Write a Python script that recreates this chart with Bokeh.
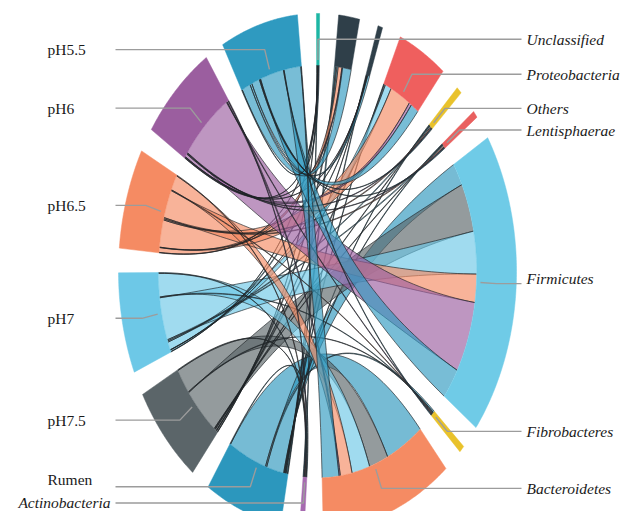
import numpy as np
from bokeh.plotting import figure
from bokeh.models import Range1d
from bokeh.embed import file_html
from bokeh.resources import INLINE
from bokeh.core.properties import value

# ---------------- data (relative abundance, % per sample) ----------------
samples = ["pH5.5", "pH6", "pH6.5", "pH7", "pH7.5", "Rumen"]
phyla = ["Unclassified", "Phylum_a", "Phylum_b", "Proteobacteria", "Others",
         "Lentisphaerae", "Firmicutes", "Fibrobacteres", "Bacteroidetes", "Actinobacteria"]
phyla_labels = ["Unclassified", "", "", "Proteobacteria", "Others",
                "Lentisphaerae", "Firmicutes", "Fibrobacteres", "Bacteroidetes", "Actinobacteria"]

ph55 = [1, 14, 3, 13, 1, 1, 38, 1, 27, 1]
ph6 = [0.5, 1, 0.5, 4, 1, 1, 88, 1, 2, 1]
ph65 = [0.5, 6, 0.5, 34, 1.5, 1.5, 35, 1, 19, 1]
ph7 = [0.5, 2, 0.5, 10, 1.5, 1.5, 53, 1, 29, 1]
ph75 = [0.5, 2, 0.5, 2, 1, 1, 60, 1, 31, 1]
rumen = [1, 2, 1, 1, 1, 1, 28, 2, 62, 1]

sample_colors = ["#2F9AC0", "#9B5E9F", "#F58B63", "#6DC8E7", "#5B6569", "#2C97BD"]
phyla_colors = ["#1DB6A4", "#2F3F49", "#2F3F49", "#EF5F5E", "#E9C22B",
                "#E9605F", "#6FCBE7", "#E9C22B", "#F58B63", "#A66BB0"]

# ---------------- layout ----------------
CX, CY, RX, RY = 317.0, 271.0, 199.0, 258.0
R_OUT, R_IN = 1.0, 0.8
GAP = 5.5
START = -0.3

M = np.array([ph55, ph6, ph65, ph7, ph75, rumen], dtype=float)
col_tot = M.sum(axis=0)
row_tot = M.sum(axis=1)

# clockwise order around the circle: phyla, then samples from Rumen up to pH5.5
seq = [("p", j) for j in range(len(phyla))] + [("s", i) for i in reversed(range(len(samples)))]
sizes = [col_tot[j] if k == "p" else row_tot[j] for k, j in seq]
K = (360.0 - GAP * len(seq)) / sum(sizes)

seg_start = {}
a = START
for (kind, idx), sz in zip(seq, sizes):
    seg_start[(kind, idx)] = (a, a + sz * K)
    a += sz * K + GAP


def pt(theta, r):
    t = np.radians(theta)
    return CX + RX * r * np.sin(t), CY - RY * r * np.cos(t)


def arc(a0, a1, r):
    n = max(2, int(abs(a1 - a0) * 3) + 2)
    th = np.linspace(a0, a1, n)
    x, y = pt(th, r)
    return list(x), list(y)


def bez(p0, p2, n=50):
    t = np.linspace(0, 1, n)
    x = (1 - t) ** 2 * p0[0] + 2 * (1 - t) * t * CX + t ** 2 * p2[0]
    y = (1 - t) ** 2 * p0[1] + 2 * (1 - t) * t * CY + t ** 2 * p2[1]
    return list(x), list(y)


# sub-arcs: in sample sectors phyla go clockwise in phylum order;
# in phylum sectors samples go clockwise in circle order (Rumen ... pH5.5)
s_sub = {}
for i in range(len(samples)):
    a0 = seg_start[("s", i)][0]
    for j in range(len(phyla)):
        w = M[i, j] * K
        s_sub[(i, j)] = (a0, a0 + w)
        a0 += w
p_sub = {}
for j in range(len(phyla)):
    a0 = seg_start[("p", j)][0]
    for i in reversed(range(len(samples))):
        w = M[i, j] * K
        p_sub[(i, j)] = (a0, a0 + w)
        a0 += w

p = figure(width=620, height=511, x_range=Range1d(0, 620), y_range=Range1d(511, 0),
           output_backend="svg", toolbar_location=None, min_border=0,
           x_axis_type=None, y_axis_type=None)
p.grid.visible = False
p.outline_line_color = None

# ---------------- ribbons ----------------
for i in reversed(range(len(samples))):
    order = sorted(range(len(phyla)), key=lambda j: -M[i, j])
    fx, fy, ex, ey = [], [], [], []
    for j in order:
        a1, a2 = s_sub[(i, j)]
        b1, b2 = p_sub[(i, j)]
        ax_, ay_ = arc(a1, a2, R_IN)
        c1x, c1y = bez(pt(a2, R_IN), pt(b1, R_IN))
        bx_, by_ = arc(b1, b2, R_IN)
        c2x, c2y = bez(pt(b2, R_IN), pt(a1, R_IN))
        fx.append(ax_ + c1x + bx_ + c2x)
        fy.append(ay_ + c1y + by_ + c2y)
        ex += [c1x, c2x]
        ey += [c1y, c2y]
    p.patches(fx, fy, fill_color=sample_colors[i], fill_alpha=0.65, line_color=None)
    p.multi_line(ex, ey, line_color="#1e2326", line_alpha=0.65, line_width=1.0)

# ---------------- outer bands ----------------
bx, by, bc = [], [], []
for (kind, idx) in seq:
    s, e = seg_start[(kind, idx)]
    ox, oy = arc(s, e, R_OUT)
    ix, iy = arc(e, s, R_IN)
    bx.append(ox + ix)
    by.append(oy + iy)
    bc.append(phyla_colors[idx] if kind == "p" else sample_colors[idx])
p.patches(bx, by, fill_color=bc, line_color=bc, line_width=0.5)

# ---------------- leader lines & labels ----------------
LEFT_LINE_X, RIGHT_LINE_X = 115, 521
label_dy = {"Rumen": -7, "Firmicutes": -5}

lx, ly = [], []
left_norm, left_ital_right, right_ital = [], [], []
for (kind, idx) in seq:
    name = samples[idx] if kind == "s" else phyla_labels[idx]
    if not name:
        continue
    s, e = seg_start[(kind, idx)]
    mid = (s + e) / 2
    ex_, ey_ = pt(mid, 0.9)
    nx_, ny_ = pt(mid, 0.82)
    left = mid > 180
    x0 = LEFT_LINE_X if left else RIGHT_LINE_X
    lx.append([x0, ex_, nx_])
    ly.append([ey_, ey_, ny_])
    ty = ey_ + label_dy.get(name, 0)
    if kind == "s":
        left_norm.append((47, ty, name))
    elif left:
        left_ital_right.append((110, ty, name))
    else:
        right_ital.append((526, ty, name))
p.multi_line(lx, ly, line_color="#9c9c9c", line_width=1.4)

FONT = value("Liberation Serif, Times New Roman, serif")
FS = "15.5px"
if left_norm:
    p.text(x=[t[0] for t in left_norm], y=[t[1] for t in left_norm], text=[t[2] for t in left_norm],
           text_font=FONT, text_font_size=FS, text_align="left", text_baseline="middle",
           text_color="#1a1a1a")
if left_ital_right:
    p.text(x=[t[0] for t in left_ital_right], y=[t[1] for t in left_ital_right],
           text=[t[2] for t in left_ital_right], text_font=FONT, text_font_size=FS,
           text_font_style="italic", text_align="right", text_baseline="middle", text_color="#1a1a1a")
if right_ital:
    p.text(x=[t[0] for t in right_ital], y=[t[1] for t in right_ital], text=[t[2] for t in right_ital],
           text_font=FONT, text_font_size=FS, text_font_style="italic", text_align="left",
           text_baseline="middle", text_color="#1a1a1a")

open("out.html", "w").write(file_html(p, INLINE))
